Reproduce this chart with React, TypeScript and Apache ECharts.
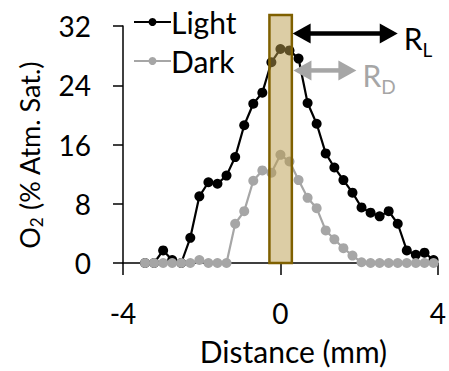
import React, { useEffect, useRef } from "react";
import * as echarts from "echarts";

const distance = [
  -3.44, -3.21, -2.98, -2.75, -2.52, -2.29, -2.06, -1.83, -1.6, -1.37, -1.15,
  -0.92, -0.69, -0.46, -0.23, 0, 0.23, 0.46, 0.69, 0.92, 1.15, 1.37, 1.6, 1.83,
  2.06, 2.29, 2.52, 2.75, 2.98, 3.21, 3.44, 3.66, 3.89,
];
const light = [
  0, 0, 1.7, 0.4, 0, 3.4, 9.0, 10.9, 10.7, 11.8, 14.3, 18.6, 21.5, 23.0, 27.1,
  28.9, 28.7, 27.6, 21.6, 18.8, 14.8, 12.9, 11.2, 9.5, 7.5, 6.8, 6.3, 7.0, 5.3,
  1.7, 1.1, 1.4, 0.4,
];
const dark = [
  0, 0, 0, 0, 0, 0, 0.4, 0, 0, 0, 5.3, 7.0, 11.1, 12.5, 12.2, 14.6, 13.7, 11.2,
  8.8, 7.4, 4.4, 3.2, 2.0, 1.0, 0.1, 0, 0, 0, 0, 0, 0, 0, 0,
];
const seriesNames = ["Light", "Dark"];
const xMin = -4;
const xMax = 4;
const xStep = 4;
const yMin = 0;
const yMax = 32;
const yStep = 8;
// highlighted band: [left, right, top]
const band = [[-0.28, 0.29, 33.5]];
// arrows: [start, end, y]
const arrows = [
  [0.31, 2.98, 31.0],
  [0.33, 1.93, 26.0],
];
const arrowLabels = [
  ["R", "L"],
  ["R", "D"],
];
const arrowColors = ["#000000", "#a6a6a6"];

const FONT = "Lato";

export default function App() {
  const ref = useRef<HTMLDivElement>(null);
  useEffect(() => {
    if (!ref.current) return;
    document.body.style.margin = "0";
    const chart = echarts.init(ref.current, undefined, { renderer: "svg" });
    const lightData = distance.map((d, i) => [d, light[i]]);
    const darkData = distance.map((d, i) => [d, dark[i]]);
    chart.setOption({
      animation: false,
      textStyle: { fontFamily: FONT, color: "#000" },
      grid: { left: 123, right: 11, top: 26, bottom: 101 },
      legend: {
        data: seriesNames,
        orient: "vertical",
        left: 128,
        top: 2,
        itemWidth: 37,
        itemHeight: 10,
        itemGap: 9,
        textStyle: { fontFamily: FONT, fontSize: 30, color: "#000", lineHeight: 30, padding: [0, 0, 0, -5] },
      },
      xAxis: {
        type: "value",
        min: xMin,
        max: xMax,
        interval: xStep,
        name: "Distance (mm)",
        nameLocation: "middle",
        nameGap: 73,
        nameTextStyle: { fontFamily: FONT, fontSize: 30, color: "#000", padding: [0, 0, 0, 26] },
        axisLine: { onZero: false, lineStyle: { color: "#000", width: 1.5 } },
        axisTick: { length: 12, lineStyle: { color: "#000", width: 1.5 } },
        axisLabel: { fontFamily: FONT, fontSize: 28, color: "#000", margin: 36 },
        splitLine: { show: false },
      },
      yAxis: {
        type: "value",
        min: yMin,
        max: yMax,
        interval: yStep,
        name: "{a|O}{b|2}{c| (% Atm. Sat.)\u00a0\u00a0\u00a0}",
        nameLocation: "middle",
        nameGap: 80,
        nameRotate: 90,
        nameTextStyle: {
          fontFamily: FONT,
          color: "#000",
          rich: {
            a: { fontFamily: FONT, fontSize: 27, lineHeight: 28, color: "#000" },
            b: { fontFamily: FONT, fontSize: 17, lineHeight: 17, color: "#000", padding: [14, 0, 0, 0] },
            c: { fontFamily: FONT, fontSize: 27, lineHeight: 28, color: "#000" },
          },
        },
        axisLine: { show: true, onZero: false, lineStyle: { color: "#000", width: 1.5 } },
        axisTick: { show: true, length: 10, lineStyle: { color: "#000", width: 1.5 } },
        axisLabel: { fontFamily: FONT, fontSize: 28, color: "#000", margin: 32 },
        splitLine: { show: false },
      },
      series: [
        {
          name: "Light",
          type: "line",
          data: lightData,
          symbol: "circle",
          symbolSize: 10,
          lineStyle: { color: "#000", width: 2.2 },
          itemStyle: { color: "#000" },
          z: 2,
        },
        {
          name: "Dark",
          type: "line",
          data: darkData,
          symbol: "circle",
          symbolSize: 10,
          lineStyle: { color: "#a6a6a6", width: 2.2 },
          itemStyle: { color: "#a6a6a6" },
          z: 3,
        },
        {
          name: "band",
          type: "custom",
          data: band,
          encode: { x: [0, 1], y: 2 },
          z: 5,
          silent: true,
          renderItem: (params: any, api: any) => {
            const p0 = api.coord([api.value(0), api.value(2)]);
            const p1 = api.coord([api.value(1), 0]);
            return {
              type: "rect",
              shape: { x: p0[0], y: p0[1], width: p1[0] - p0[0], height: p1[1] - p0[1] },
              style: { fill: "rgba(185,155,75,0.5)", stroke: "#7f6000", lineWidth: 2.5 },
            };
          },
        },
        {
          name: "arrows",
          type: "custom",
          data: arrows,
          encode: { x: [0, 1], y: 2 },
          z: 6,
          silent: true,
          renderItem: (params: any, api: any) => {
            const i = params.dataIndex;
            const color = arrowColors[i];
            const p0 = api.coord([api.value(0), api.value(2)]);
            const p1 = api.coord([api.value(1), api.value(2)]);
            const hl = 18;
            const hw = 10;
            const y = p0[1];
            const lab = arrowLabels[i];
            return {
              type: "group",
              children: [
                {
                  type: "line",
                  shape: { x1: p0[0] + hl - 2, y1: y, x2: p1[0] - hl + 2, y2: y },
                  style: { stroke: color, lineWidth: 4.5 },
                },
                {
                  type: "polygon",
                  shape: { points: [[p0[0], y], [p0[0] + hl, y - hw], [p0[0] + hl, y + hw]] },
                  style: { fill: color },
                },
                {
                  type: "polygon",
                  shape: { points: [[p1[0], y], [p1[0] - hl, y - hw], [p1[0] - hl, y + hw]] },
                  style: { fill: color },
                },
                {
                  type: "text",
                  x: p1[0] + 6,
                  y: y + 5,
                  style: {
                    text: "{r|" + lab[0] + "}{s|" + lab[1] + "}",
                    fill: color,
                    verticalAlign: "middle",
                    align: "left",
                    rich: {
                      r: { fontFamily: FONT, fontSize: 30, lineHeight: 30, fill: color, color: color },
                      s: { fontFamily: FONT, fontSize: 19, lineHeight: 19, fill: color, color: color, padding: [22, 0, 0, 0] },
                    },
                  },
                },
              ],
            };
          },
        },
      ],
    });
    return () => chart.dispose();
  }, []);
  return <div ref={ref} style={{ width: 449, height: 371 }} />;
}
